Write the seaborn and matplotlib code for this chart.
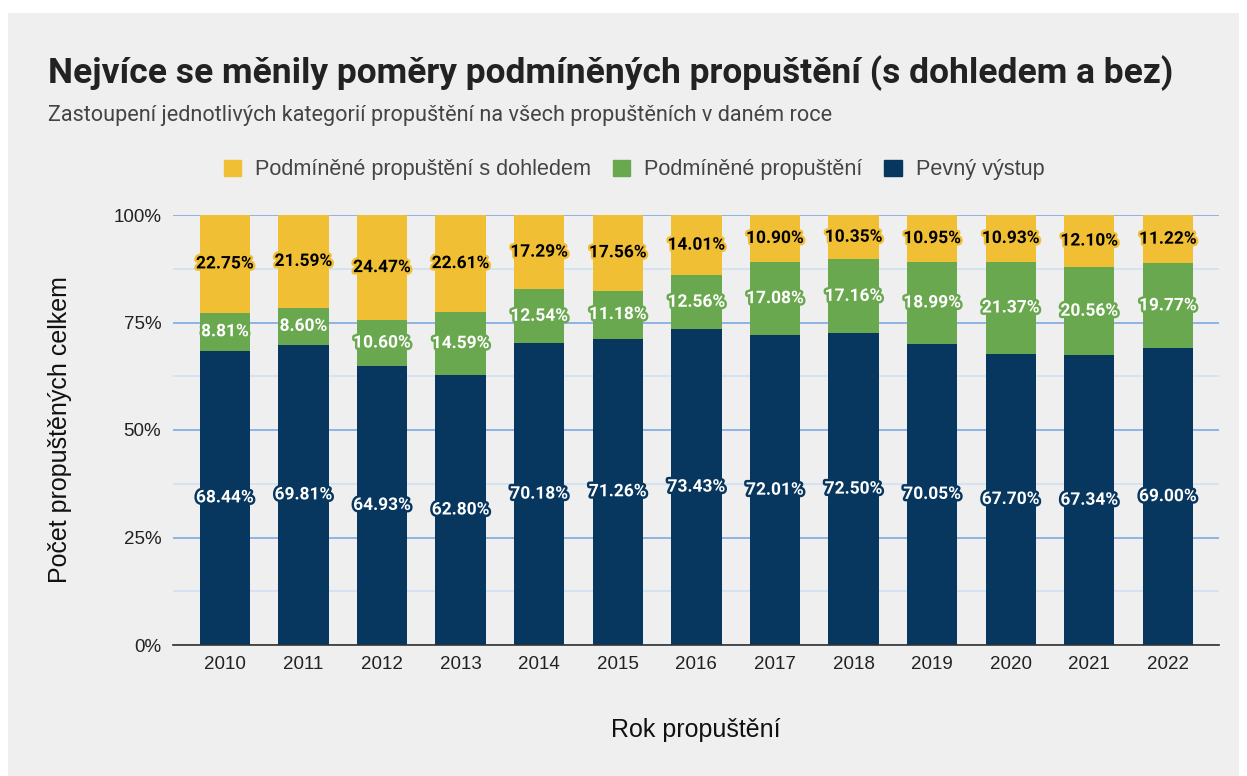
import numpy as np
import pandas as pd
import matplotlib.pyplot as plt
import matplotlib.patheffects as pe
from matplotlib.patches import Rectangle
from matplotlib.ticker import MultipleLocator, FuncFormatter
import seaborn as sns

#data
years = ["2010", "2011", "2012", "2013", "2014", "2015", "2016",
         "2017", "2018", "2019", "2020", "2021", "2022"]
pevny = [68.44, 69.81, 64.93, 62.80, 70.18, 71.26, 73.43, 72.01, 72.50, 70.05, 67.70, 67.34, 69.00]
podm = [8.81, 8.60, 10.60, 14.59, 12.54, 11.18, 12.56, 17.08, 17.16, 18.99, 21.37, 20.56, 19.77]
dohled = [22.75, 21.59, 24.47, 22.61, 17.29, 17.56, 14.01, 10.90, 10.35, 10.95, 10.93, 12.10, 11.22]

labels = ["Podmíněné propuštění s dohledem", "Podmíněné propuštění", "Pevný výstup"]
colors = {"dohled": "#f1bf33", "podm": "#6aa84f", "pevny": "#07365e"}

df = pd.DataFrame({"rok": years, "pevny": pevny, "podm": podm, "dohled": dohled})
df["c1"] = df["pevny"]
df["c2"] = df["pevny"] + df["podm"]
df["c3"] = df["c2"] + df["dohled"]

sns.set_style("white")
plt.rcParams["font.family"] = ["Liberation Sans", "DejaVu Sans"]
ROBOTO = ["Roboto", "DejaVu Sans"]

fig = plt.figure(figsize=(12.47, 7.76), dpi=100)
fig.patch.set_facecolor("white")
fig.patches.append(Rectangle((8 / 1247, 0), 1 - 16 / 1247, 1 - 13 / 776,
                             transform=fig.transFigure, facecolor="#efefef",
                             edgecolor="none", zorder=-10))

ax = fig.add_axes([173 / 1247, 1 - 645 / 776, (1219 - 173) / 1247, (645 - 215) / 776])
ax.set_facecolor("#efefef")

# stacked bars drawn as cumulative layers
for col, key in [("c3", "dohled"), ("c2", "podm"), ("c1", "pevny")]:
    sns.barplot(data=df, x="rok", y=col, color=colors[key], width=0.64,
                saturation=1, linewidth=0, ax=ax, zorder=3)

# value labels in the middle of every segment
x = np.arange(len(years))
for i in range(len(years)):
    segs = [
        (df["pevny"][i] / 2, df["pevny"][i], colors["pevny"], "white"),
        (df["c1"][i] + df["podm"][i] / 2, df["podm"][i], colors["podm"], "white"),
        (df["c2"][i] + df["dohled"][i] / 2, df["dohled"][i], colors["dohled"], "black"),
    ]
    for ypos, val, bg, fg in segs:
        ax.text(x[i], ypos, f"{val:.2f}%", ha="center", va="center", family=ROBOTO,
                fontsize=12.5, fontweight="bold", color=fg, zorder=5,
                path_effects=[pe.withStroke(linewidth=3.5, foreground=bg)])

ax.set_ylim(0, 100)
ax.set_xlim(-0.66, 12.65)
ax.yaxis.set_major_locator(MultipleLocator(25))
ax.yaxis.set_minor_locator(MultipleLocator(12.5))
ax.yaxis.set_major_formatter(FuncFormatter(lambda v, p: f"{v:.0f}%"))
ax.grid(axis="y", which="major", color="#7eaae2", linewidth=1.2, zorder=1)
ax.grid(axis="y", which="minor", color="#cfe0f3", linewidth=1.2, zorder=1)
ax.set_axisbelow(True)
for s in ["left", "right", "top"]:
    ax.spines[s].set_visible(False)
ax.spines["bottom"].set_color("#333333")
ax.spines["bottom"].set_linewidth(1.2)
ax.spines["bottom"].set_zorder(6)
ax.tick_params(axis="both", which="both", length=0, colors="#222222")
ax.tick_params(axis="x", labelsize=13.5, pad=8)
ax.tick_params(axis="y", labelsize=13.5, pad=8.5)

ax.set_xlabel("Rok propuštění", fontsize=18, color="#111111", labelpad=32)
ax.set_ylabel("Počet propuštěných celkem", fontsize=18, color="#111111", labelpad=30)

fig.text(48 / 1247, 1 - 73 / 776, "Nejvíce se měnily poměry podmíněných propuštění (s dohledem a bez)",
         fontsize=25.5, fontweight="bold", color="#222222", va="center", family=ROBOTO)
fig.text(48 / 1247, 1 - 116 / 776,
         "Zastoupení jednotlivých kategorií propuštění na všech propuštěních v daném roce",
         fontsize=15.6, color="#444444", va="center", family=ROBOTO)

handles = [Rectangle((0, 0), 1, 1, color=colors[k]) for k in ["dohled", "podm", "pevny"]]
fig.legend(handles, labels, loc="center", bbox_to_anchor=(634 / 1247, 1 - 170 / 776),
           ncol=3, frameon=False, fontsize=15.6, handlelength=0.8, handleheight=0.8,
           handletextpad=0.65, columnspacing=1.0, labelcolor="#444444")

fig.savefig("out.png", dpi=100, facecolor=fig.get_facecolor())
